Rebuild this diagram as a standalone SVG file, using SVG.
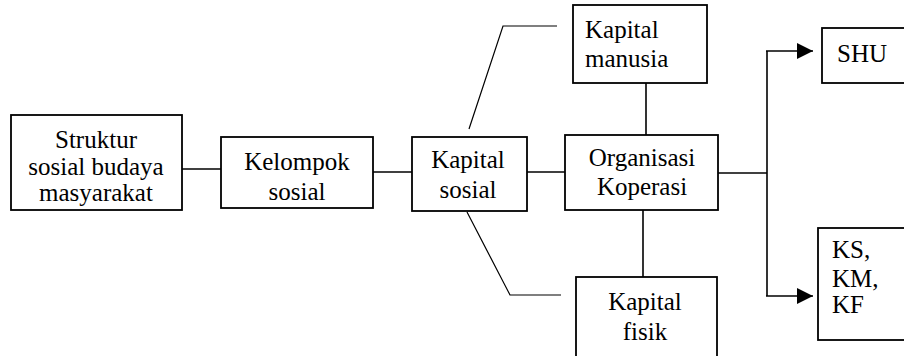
<svg xmlns="http://www.w3.org/2000/svg" width="904" height="356" viewBox="0 0 904 356">
<style>
.box{fill:#fff;stroke:#000;stroke-width:1.8}
.ln{fill:none;stroke:#000;stroke-width:1.6}
.dg{fill:none;stroke:#000;stroke-width:1.2}
.t{font-family:'Liberation Serif','Times New Roman',serif;font-size:25px;fill:#000}
.c{text-anchor:middle}
</style>
<defs>
<marker id="arr" markerWidth="16" markerHeight="16" refX="16" refY="8" orient="auto" markerUnits="userSpaceOnUse">
<path d="M0,0 L16,8 L0,16 Z" fill="#000"/>
</marker>
</defs>
<rect width="904" height="356" fill="#fff"/>
<g id="connectors">
<line class="ln" x1="182" y1="169" x2="221" y2="169"/>
<line class="ln" x1="373" y1="172" x2="412" y2="172"/>
<line class="ln" x1="527" y1="172" x2="565" y2="172"/>
<line class="ln" x1="646" y1="83" x2="646" y2="135"/>
<line class="ln" x1="643" y1="210" x2="643" y2="277"/>
<polyline class="dg" points="469,129 503,26 557,26"/>
<polyline class="dg" points="467,212 510,295 561,295"/>
<line class="ln" x1="718" y1="173" x2="767" y2="173"/>
<line class="ln" x1="767" y1="51" x2="767" y2="296"/>
<line class="ln" x1="766" y1="51" x2="813" y2="51" marker-end="url(#arr)"/>
<line class="ln" x1="766" y1="296" x2="813" y2="296" marker-end="url(#arr)"/>
</g>
<g id="n-struktur" class="t">
<rect class="box" x="11" y="115" width="171" height="95"/>
<text class="c" x="96" y="148">Struktur</text>
<text class="c" x="96" y="175">sosial budaya</text>
<text class="c" x="96" y="201">masyarakat</text>
</g>
<g id="n-kelompok" class="t">
<rect class="box" x="221" y="137" width="152" height="71"/>
<text class="c" x="297" y="170">Kelompok</text>
<text class="c" x="297" y="200">sosial</text>
</g>
<g id="n-kapital-sosial" class="t">
<rect class="box" x="412" y="137" width="115" height="74"/>
<text class="c" x="468" y="168">Kapital</text>
<text class="c" x="468" y="198">sosial</text>
</g>
<g id="n-kapital-manusia" class="t">
<rect class="box" x="573" y="5" width="134" height="78"/>
<text x="585" y="38">Kapital</text>
<text x="585" y="67">manusia</text>
</g>
<g id="n-organisasi" class="t">
<rect class="box" x="565" y="135" width="153" height="75"/>
<text class="c" x="642" y="166">Organisasi</text>
<text class="c" x="642" y="195">Koperasi</text>
</g>
<g id="n-kapital-fisik" class="t">
<rect class="box" x="576" y="277" width="141" height="90"/>
<text class="c" x="645" y="310">Kapital</text>
<text class="c" x="645" y="340">fisik</text>
</g>
<g id="n-shu" class="t">
<rect class="box" x="822" y="28" width="90" height="55"/>
<text x="837" y="62">SHU</text>
</g>
<g id="n-ks" class="t">
<rect class="box" x="818" y="228" width="94" height="112"/>
<text x="832" y="258">KS,</text>
<text x="832" y="287">KM,</text>
<text x="832" y="313">KF</text>
</g>
</svg>
